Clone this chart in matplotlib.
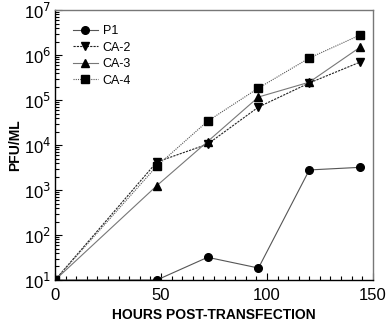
import math

import matplotlib
matplotlib.use("Agg")
import matplotlib.pyplot as plt
from matplotlib.ticker import LogLocator, MultipleLocator, FixedLocator

plt.rcParams["font.family"] = ["Liberation Sans", "DejaVu Sans"]

hours = [0, 48, 72, 96, 120, 144]
p1 = [10, 10, 32, 18.5, 2800, 3200]
ca2 = [10, 4200, 10500, 70000, 240000, 700000]
ca3 = [10, 1250, 12000, 117000, 250000, 1.5e6]
ca4 = [10, 3400, 34000, 185000, 860000, 2.8e6]

fig = plt.figure(figsize=(3.88, 3.26), dpi=100)
ax = fig.add_axes([0.142, 0.141, 0.819, 0.828])

ax.plot(hours, p1, color="#555555", lw=0.8, ls="-", marker="o", ms=5.5,
        mfc="black", mec="black", label="P1")
ax.plot(hours, ca2, color="#222222", lw=0.8, ls=(0, (2, 1)), marker="v", ms=5.5,
        mfc="black", mec="black", label="CA-2")
ax.plot(hours, ca3, color="#777777", lw=0.8, ls="-", marker="^", ms=5.5,
        mfc="black", mec="black", label="CA-3")
ax.plot(hours, ca4, color="#555555", lw=0.8, ls=(0, (1, 1)), marker="s", ms=5.5,
        mfc="black", mec="black", label="CA-4")

ax.set_yscale("log")
ax.set_ylim(10, 1e7)
ax.set_xlim(0, 150)

ax.xaxis.set_major_locator(FixedLocator([0, 50, 100, 150]))
ax.xaxis.set_minor_locator(MultipleLocator(5))
ax.yaxis.set_major_locator(LogLocator(base=10, numticks=10))
ax.yaxis.set_minor_locator(LogLocator(base=10, subs=range(2, 10), numticks=10))
ax.yaxis.set_major_formatter(
    plt.FuncFormatter(lambda v, p: "10$^{%d}$" % round(math.log10(v))))

ax.tick_params(which="both", direction="in", top=False, right=False,
               labelsize=12, width=0.8)
ax.tick_params(which="major", length=5)
ax.tick_params(which="minor", length=3)
ax.tick_params(axis="x", pad=6)
ax.tick_params(axis="y", pad=3)

for s in ax.spines.values():
    s.set_linewidth(1.0)
ax.spines["top"].set_color("#777777")
ax.spines["right"].set_color("#777777")

ax.set_xlabel("HOURS POST-TRANSFECTION", fontsize=10, fontweight="bold", labelpad=3)
ax.set_ylabel("PFU/ML", fontsize=10, fontweight="bold", labelpad=1)

ax.legend(loc="upper left", frameon=False, fontsize=9, handlelength=2.0,
          borderaxespad=0.5, labelspacing=0.35, handletextpad=0.4,
          bbox_to_anchor=(0.02, 0.985))

fig.savefig("out.png", dpi=100)
